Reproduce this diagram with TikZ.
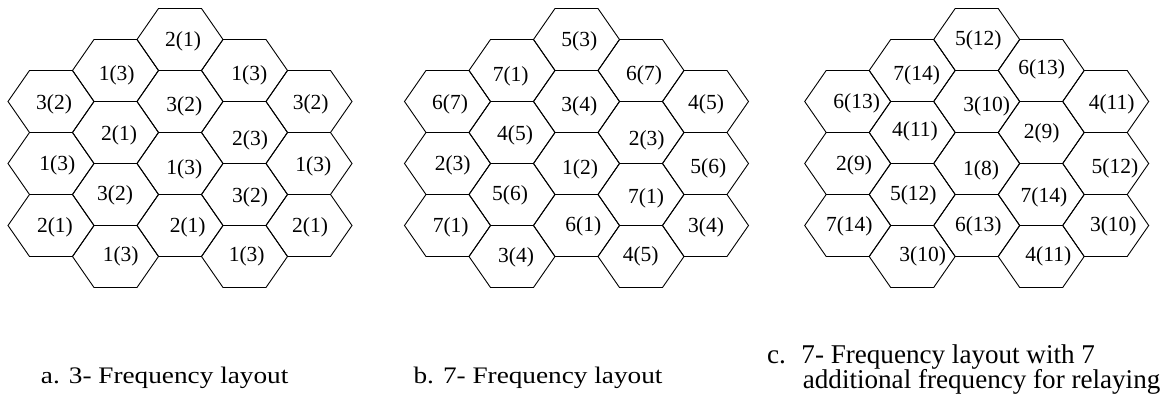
\documentclass[tikz,border=0pt]{standalone}
\usepackage{fontspec}
\setmainfont{Liberation Serif}
\newcommand\hexcell[2]{\draw[hexline,shift={(#1,#2)}] (-43,0) -- (-21.5,-31) -- (21.5,-31) -- (43,0) -- (21.5,31) -- (-21.5,31) -- cycle;}
\newcommand\hexgrid[1]{%
  \foreach \j in {0,1,2,3} {\hexcell{#1}{39.5+62*\j}}
  \foreach \j in {0,1,2,3} {\hexcell{#1-64.5}{70.5+62*\j}\hexcell{#1+64.5}{70.5+62*\j}}
  \foreach \j in {0,1,2} {\hexcell{#1-129}{101.5+62*\j}\hexcell{#1+129}{101.5+62*\j}}
}
\begin{document}
\begin{tikzpicture}[x=1pt,y=-1pt,
  hexline/.style={line width=0.9pt,line join=miter},
  lab/.style={font=\fontsize{21.5}{24}\selectfont,inner sep=0pt,anchor=center},
  capab/.style={font=\fontsize{23.7}{26}\selectfont,inner sep=0pt,anchor=base west},
  capc/.style={font=\fontsize{27.1}{28}\selectfont,inner sep=0pt,anchor=base west}]
\useasboundingbox (0,0) rectangle (1163,398);
\hexgrid{180}
\hexgrid{576.5}
\hexgrid{976.7}
% diagram a
\node[lab] (a1) at (183,41.7) {2(1)};
\node[lab] (a2) at (116.7,75) {1(3)};
\node[lab] (a3) at (249.3,75) {1(3)};
\node[lab] (a4) at (54,104) {3(2)};
\node[lab] (a5) at (184.3,106) {3(2)};
\node[lab] (a6) at (310.7,104) {3(2)};
\node[lab] (a7) at (119,135) {2(1)};
\node[lab] (a8) at (250,140) {2(3)};
\node[lab] (a9) at (57.3,165) {1(3)};
\node[lab] (a10) at (184.3,169.3) {1(3)};
\node[lab] (a11) at (313.3,166.7) {1(3)};
\node[lab] (a12) at (115,195) {3(2)};
\node[lab] (a13) at (250,197.7) {3(2)};
\node[lab] (a14) at (55,227.7) {2(1)};
\node[lab] (a15) at (187.7,227.7) {2(1)};
\node[lab] (a16) at (310,227.7) {2(1)};
\node[lab] (a17) at (120.7,256.7) {1(3)};
\node[lab] (a18) at (246.7,256.7) {1(3)};
% diagram b
\node[lab] (b1) at (579.3,41.7) {5(3)};
\node[lab] (b2) at (510.7,76) {7(1)};
\node[lab] (b3) at (644,75) {6(7)};
\node[lab] (b4) at (450,104) {6(7)};
\node[lab] (b5) at (579.3,106) {3(4)};
\node[lab] (b6) at (706,104) {4(5)};
\node[lab] (b7) at (515,135) {4(5)};
\node[lab] (b8) at (646.7,140) {2(3)};
\node[lab] (b9) at (452.7,165) {2(3)};
\node[lab] (b10) at (580,169.3) {1(2)};
\node[lab] (b11) at (708.3,168.3) {5(6)};
\node[lab] (b12) at (510,195) {5(6)};
\node[lab] (b13) at (646,198.3) {7(1)};
\node[lab] (b14) at (450.7,227.7) {7(1)};
\node[lab] (b15) at (583.3,226.7) {6(1)};
\node[lab] (b16) at (706,227.7) {3(4)};
\node[lab] (b17) at (516,257.3) {3(4)};
\node[lab] (b18) at (640.7,256.7) {4(5)};
% diagram c
\node[lab] (c1) at (978.3,40.7) {5(12)};
\node[lab] (c2) at (916.7,75) {7(14)};
\node[lab] (c3) at (1041.7,69.3) {6(13)};
\node[lab] (c4) at (856.7,103.3) {6(13)};
\node[lab] (c5) at (986.7,106) {3(10)};
\node[lab] (c6) at (1111.7,104) {4(11)};
\node[lab] (c7) at (915,131.7) {4(11)};
\node[lab] (c8) at (1041.7,133.3) {2(9)};
\node[lab] (c9) at (854,165) {2(9)};
\node[lab] (c10) at (981,170) {1(8)};
\node[lab] (c11) at (1115,168.3) {5(12)};
\node[lab] (c12) at (913.3,195) {5(12)};
\node[lab] (c13) at (1044,197.3) {7(14)};
\node[lab] (c14) at (849.3,226.7) {7(14)};
\node[lab] (c15) at (978.3,226) {6(13)};
\node[lab] (c16) at (1113.3,226.7) {3(10)};
\node[lab] (c17) at (922.7,256.7) {3(10)};
\node[lab] (c18) at (1048.3,256.7) {4(11)};
% captions
\node[capab] (capa) at (40.7,383.3) {\scalebox{1.15}[1]{a. 3- Frequency layout}};
\node[capab] (capb) at (413.3,383.3) {\scalebox{1.15}[1]{b. 7- Frequency layout}};
\node[capc] (capc1) at (767,363) {c.\hspace{0.57em}7- Frequency layout with 7};
\node[capc] (capc2) at (802.7,388.3) {additional frequency for relaying};
\end{tikzpicture}
\end{document}
